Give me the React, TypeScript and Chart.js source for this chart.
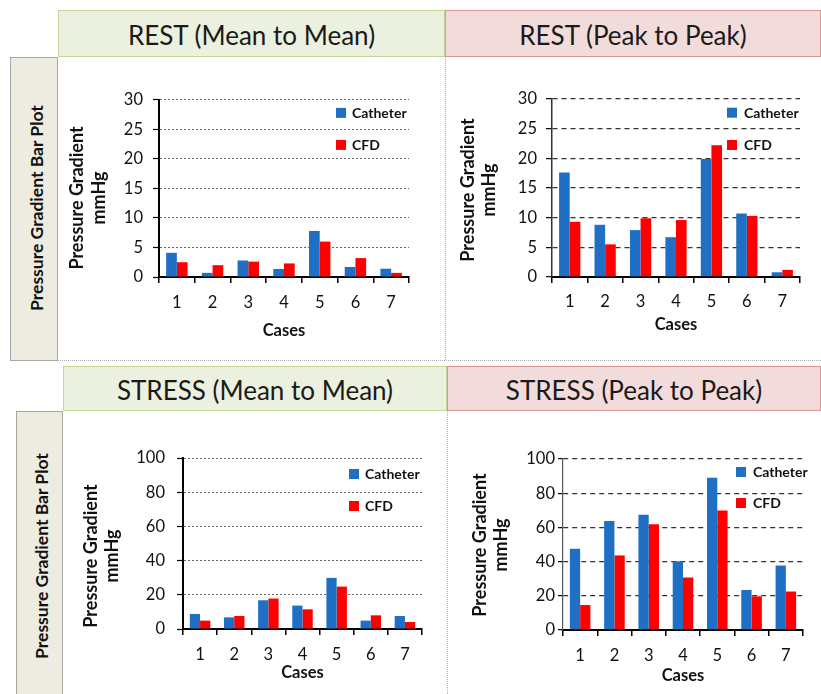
import React, { useEffect, useRef } from "react";
import { Chart, registerables } from "chart.js";

Chart.register(...registerables);

const cases = ["1", "2", "3", "4", "5", "6", "7"];
const seriesNames = ["Catheter", "CFD"];

const restMeanCatheter = [4.1, 0.7, 2.8, 1.35, 7.8, 1.7, 1.4];
const restMeanCFD = [2.5, 2.0, 2.6, 2.3, 6.0, 3.2, 0.7];

const restPeakCatheter = [17.6, 8.8, 7.9, 6.7, 19.9, 10.7, 0.8];
const restPeakCFD = [9.3, 5.5, 9.9, 9.6, 22.2, 10.3, 1.2];

const stressMeanCatheter = [8.8, 6.8, 16.8, 13.7, 29.9, 4.9, 7.6];
const stressMeanCFD = [4.9, 7.6, 17.8, 11.5, 24.8, 8.0, 4.1];

const stressPeakCatheter = [47.5, 63.7, 67.4, 40.2, 89.1, 23.4, 37.7];
const stressPeakCFD = [14.6, 43.6, 61.9, 30.7, 69.9, 19.7, 22.5];

const restMax = 30;
const restStep = 5;
const stressMax = 100;
const stressStep = 20;

const headerTitles = [
  "REST (Mean to Mean)",
  "REST (Peak to Peak)",
  "STRESS (Mean to Mean)",
  "STRESS (Peak to Peak)",
];
const sideLabel = "Pressure Gradient Bar Plot";
const yTitle = ["Pressure Gradient", "mmHg"];
const xTitle = "Cases";

const BLUE = "#1f6fc5";
const RED = "#ff0000";
const FONT = "Lato, 'Open Sans', sans-serif";

type PanelCfg = {
  left: number;
  top: number;
  width: number;
  height: number;
  yWidth: number;
  xHeight: number;
  padTop: number;
  padRight: number;
  yTitleX: number;
  yTitleDy: number;
  xLabelPad: number;
  xTitlePadBottom: number;
  yTickLen: number;
  yTickPad: number;
  max: number;
  step: number;
  a: number[];
  b: number[];
  gridDash: number[];
  gridColor: string;
  gridWidth: number;
  yAxisColor: string;
  yAxisWidth: number;
  legendFromRight: number;
  legendRow1: number;
  legendRow2: number;
  legendTextGap: number;
};

// Draws the inner legend (top-right of plot area) and the two-line rotated y-axis title.
const annotatePlugin = {
  id: "annotate",
  afterDraw(chart: any, _args: any, opts: any) {
    const { ctx, chartArea } = chart;
    ctx.save();
    const rows = [opts.row1, opts.row2];
    chart.data.datasets.forEach((ds: any, i: number) => {
      const x = chartArea.right - opts.fromRight;
      const cy = chartArea.top + rows[i];
      ctx.fillStyle = ds.backgroundColor;
      ctx.fillRect(x, cy - 5, 10, 10);
      ctx.fillStyle = "#111";
      ctx.font = "bold 14px " + FONT;
      ctx.textBaseline = "middle";
      ctx.textAlign = "left";
      ctx.fillText(ds.label, x + opts.textGap, cy + 0.5);
    });
    ctx.restore();

    ctx.save();
    const cy = (chartArea.top + chartArea.bottom) / 2 + opts.titleDy;
    ctx.font = "bold 18px " + FONT;
    ctx.fillStyle = "#111";
    ctx.textAlign = "center";
    ctx.textBaseline = "middle";
    opts.title.forEach((line: string, i: number) => {
      ctx.save();
      ctx.translate(opts.titleX + i * 21.6, cy);
      ctx.rotate(-Math.PI / 2);
      ctx.fillText(line, 0, 0);
      ctx.restore();
    });
    ctx.restore();
  },
};

function BarPanel({ cfg }: { cfg: PanelCfg }) {
  const ref = useRef<HTMLCanvasElement | null>(null);
  useEffect(() => {
    if (!ref.current) return;
    const chart = new Chart(ref.current, {
      type: "bar",
      data: {
        labels: cases,
        datasets: [
          {
            label: seriesNames[0],
            data: cfg.a,
            backgroundColor: BLUE,
            categoryPercentage: 0.6,
            barPercentage: 1.0,
          },
          {
            label: seriesNames[1],
            data: cfg.b,
            backgroundColor: RED,
            categoryPercentage: 0.6,
            barPercentage: 1.0,
          },
        ],
      },
      options: {
        animation: false,
        responsive: false,
        maintainAspectRatio: false,
        layout: {
          padding: { top: cfg.padTop, right: cfg.padRight, left: 0, bottom: 0 },
        },
        plugins: {
          legend: { display: false },
          tooltip: { enabled: false },
          annotate: {
            fromRight: cfg.legendFromRight,
            row1: cfg.legendRow1,
            row2: cfg.legendRow2,
            textGap: cfg.legendTextGap,
            title: yTitle,
            titleX: cfg.yTitleX,
            titleDy: cfg.yTitleDy,
          },
        } as any,
        scales: {
          x: {
            offset: true,
            grid: {
              offset: true,
              drawOnChartArea: false,
              drawTicks: true,
              tickLength: 6,
              color: "#000",
              lineWidth: 1.5,
            },
            border: { display: true, color: "#000", width: 2 },
            ticks: {
              color: "#111",
              font: { family: FONT, size: 16.5 },
              padding: cfg.xLabelPad,
              maxRotation: 0,
            },
            title: {
              display: true,
              text: xTitle,
              color: "#111",
              font: { family: FONT, size: 16.5, weight: "bold", lineHeight: 1.2 },
              padding: { top: 0, bottom: cfg.xTitlePadBottom },
            },
            afterFit: (s: any) => {
              s.height = cfg.xHeight;
            },
          },
          y: {
            min: 0,
            max: cfg.max,
            ticks: {
              stepSize: cfg.step,
              color: "#111",
              font: { family: FONT, size: 16.5 },
              padding: cfg.yTickPad,
            },
            grid: {
              color: cfg.gridColor,
              lineWidth: cfg.gridWidth,
              tickColor: "#000",
              tickLength: cfg.yTickLen,
              tickWidth: 1.2,
            },
            border: {
              display: true,
              color: cfg.yAxisColor,
              width: cfg.yAxisWidth,
              dash: cfg.gridDash,
            },
            title: { display: false },
            afterFit: (s: any) => {
              s.width = cfg.yWidth;
            },
          },
        },
      },
      plugins: [annotatePlugin],
    } as any);
    return () => chart.destroy();
  }, [cfg]);
  return (
    <canvas
      ref={ref}
      width={cfg.width}
      height={cfg.height}
      style={{
        position: "absolute",
        left: cfg.left,
        top: cfg.top,
        width: cfg.width,
        height: cfg.height,
      }}
    />
  );
}

const panels: PanelCfg[] = [
  {
    left: 60, top: 80, width: 375, height: 265,
    yWidth: 99, xHeight: 68, padTop: 19, padRight: 26,
    yTitleX: 17.5, yTitleDy: 9.5, xLabelPad: 9.4, xTitlePadBottom: 4.4,
    yTickLen: 6, yTickPad: 10,
    max: restMax, step: restStep, a: restMeanCatheter, b: restMeanCFD,
    gridDash: [2, 2], gridColor: "#666", gridWidth: 1,
    yAxisColor: "#000", yAxisWidth: 2,
    legendFromRight: 73, legendRow1: 13, legendRow2: 45, legendTextGap: 16,
  },
  {
    left: 450, top: 80, width: 370, height: 265,
    yWidth: 102, xHeight: 68, padTop: 19, padRight: 20,
    yTitleX: 18, yTitleDy: 2, xLabelPad: 9.1, xTitlePadBottom: 10.4,
    yTickLen: 6, yTickPad: 9,
    max: restMax, step: restStep, a: restPeakCatheter, b: restPeakCFD,
    gridDash: [5, 4], gridColor: "#333", gridWidth: 1.3,
    yAxisColor: "#333", yAxisWidth: 1.5,
    legendFromRight: 73, legendRow1: 13.7, legendRow2: 46, legendTextGap: 17,
  },
  {
    left: 66, top: 430, width: 375, height: 262,
    yWidth: 117, xHeight: 63, padTop: 28, padRight: 19,
    yTitleX: 25, yTitleDy: 12.5, xLabelPad: 9.4, xTitlePadBottom: 9.4,
    yTickLen: 6, yTickPad: 12,
    max: stressMax, step: stressStep, a: stressMeanCatheter, b: stressMeanCFD,
    gridDash: [2, 2], gridColor: "#666", gridWidth: 1,
    yAxisColor: "#000", yAxisWidth: 2,
    legendFromRight: 73, legendRow1: 16, legendRow2: 48, legendTextGap: 16,
  },
  {
    left: 450, top: 430, width: 370, height: 262,
    yWidth: 113, xHeight: 62, padTop: 29, padRight: 17,
    yTitleX: 30, yTitleDy: 0.5, xLabelPad: 9.4, xTitlePadBottom: 6.7,
    yTickLen: 5, yTickPad: 3,
    max: stressMax, step: stressStep, a: stressPeakCatheter, b: stressPeakCFD,
    gridDash: [5, 4], gridColor: "#333", gridWidth: 1.3,
    yAxisColor: "#555", yAxisWidth: 1.2,
    legendFromRight: 67, legendRow1: 13, legendRow2: 44, legendTextGap: 17,
  },
];

const GREEN_FILL = "#ebf1de";
const GREEN_BORDER = "#c3d69b";
const PINK_FILL = "#f2dcdb";
const PINK_BORDER = "#d99694";
const SIDE_FILL = "#eeece1";
const SIDE_BORDER = "#a6a6a6";

function Header({ text, left, top, width, height, fill, border }: any) {
  return (
    <div
      style={{
        position: "absolute",
        left,
        top,
        width,
        height,
        boxSizing: "border-box",
        background: fill,
        border: `1.5px solid ${border}`,
        display: "flex",
        alignItems: "center",
        justifyContent: "center",
        fontFamily: FONT,
        fontSize: 26,
        color: "#1a1a1a",
        paddingTop: 3,
        whiteSpace: "nowrap",
      }}
    >
      {text}
    </div>
  );
}

function Side({ left, top, width, height, cx, cy }: any) {
  return (
    <>
      <div
        style={{
          position: "absolute",
          left,
          top,
          width,
          height,
          boxSizing: "border-box",
          background: SIDE_FILL,
          border: `1.5px solid ${SIDE_BORDER}`,
        }}
      />
      <div
        style={{
          position: "absolute",
          left: cx,
          top: cy,
          transform: "translate(-50%, -50%) rotate(-90deg)",
          fontFamily: FONT,
          fontWeight: "bold",
          fontSize: 17.5,
          color: "#111",
          whiteSpace: "nowrap",
        }}
      >
        {sideLabel}
      </div>
    </>
  );
}

export default function App() {
  return (
    <div
      style={{
        position: "absolute",
        left: 0,
        top: 0,
        width: 821,
        height: 694,
        background: "#fff",
        overflow: "hidden",
      }}
    >
      <div style={{ position: "absolute", left: 445, top: 57, width: 0, height: 303, borderLeft: "1px dotted #b0b0b0" }} />
      <div style={{ position: "absolute", left: 58, top: 360, width: 763, height: 0, borderTop: "1px dotted #b0b0b0" }} />
      <div style={{ position: "absolute", left: 447, top: 411, width: 0, height: 283, borderLeft: "1px dotted #b0b0b0" }} />

      <Header text={headerTitles[0]} left={58} top={10} width={387} height={47} fill={GREEN_FILL} border={GREEN_BORDER} />
      <Header text={headerTitles[1]} left={445} top={10} width={376} height={47} fill={PINK_FILL} border={PINK_BORDER} />
      <Header text={headerTitles[2]} left={63} top={366} width={384} height={45} fill={GREEN_FILL} border={GREEN_BORDER} />
      <Header text={headerTitles[3]} left={447} top={366} width={374} height={45} fill={PINK_FILL} border={PINK_BORDER} />

      <Side left={10} top={57} width={48} height={304} cx={36} cy={208} />
      <Side left={16} top={411} width={47} height={290} cx={41} cy={556} />

      {panels.map((p, i) => (
        <BarPanel key={i} cfg={p} />
      ))}
    </div>
  );
}
